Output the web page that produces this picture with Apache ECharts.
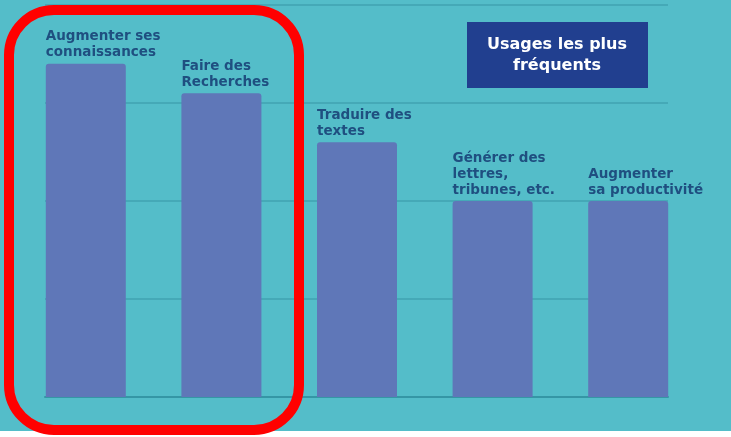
<!DOCTYPE html>
<html>
<head>
<meta charset="utf-8">
<script src="https://cdn.jsdelivr.net/npm/echarts@6/dist/echarts.min.js"></script>
<style>
  html, body { margin: 0; padding: 0; background: #54bdc9; }
  #main { width: 731px; height: 437px; }
</style>
</head>
<body>
<div id="main"></div>
<script>
// données (en %)
var categories = ['Augmenter ses\nconnaissances', 'Faire des\nRecherches', 'Traduire des\ntextes', 'Générer des\nlettres,\ntribunes, etc.', 'Augmenter\nsa productivité'];
var values = [34, 31, 26, 20, 20];
var yTicks = [0, 10, 20, 30, 40];
var titleText = 'Usages les plus\nfréquents';

var mychart = echarts.init(document.getElementById('main'));

var option = {
  backgroundColor: '#54bdc9',
  animation: false,
  grid: [
    // grille des barres
    {left: 18, right: 35, top: 5, bottom: 40},
    // grille des lignes de repère (plus étroite)
    {left: 45, right: 63, top: 5, bottom: 40}
  ],
  xAxis: [
    {
      type: 'category', gridIndex: 0, data: categories,
      axisLine: {show: false}, axisTick: {show: false}, axisLabel: {show: false}
    },
    {
      type: 'category', gridIndex: 1, data: categories,
      axisLine: {show: true, lineStyle: {color: '#3596a5', width: 2}},
      axisTick: {show: false}, axisLabel: {show: false}
    }
  ],
  yAxis: [
    {
      type: 'value', gridIndex: 0, min: yTicks[0], max: yTicks[yTicks.length - 1],
      show: false, splitLine: {show: false}
    },
    {
      type: 'value', gridIndex: 1, min: yTicks[0], max: yTicks[yTicks.length - 1], interval: 10,
      axisLine: {show: false}, axisTick: {show: false}, axisLabel: {show: false},
      splitLine: {show: true, lineStyle: {color: '#45a9b7', width: 2}}
    }
  ],
  series: [
    {
      type: 'bar',
      xAxisIndex: 0, yAxisIndex: 0,
      data: values,
      barWidth: 80,
      itemStyle: {color: '#5f77b8', borderRadius: [3, 3, 0, 0]},
      label: {
        show: true,
        formatter: '{b}',
        position: [0, -3],
        align: 'left',
        verticalAlign: 'bottom',
        color: '#1f4f80',
        fontFamily: 'DejaVu Sans',
        fontWeight: 'bold',
        fontSize: 13.5,
        lineHeight: 16
      }
    }
  ],
  graphic: [
    {
      type: 'rect', left: 0, top: 431, z: 50,
      shape: {width: 731, height: 6},
      style: {fill: '#ffffff'}
    },
    {
      type: 'rect', z: 60,
      shape: {x: 467, y: 22, width: 181, height: 66},
      style: {fill: '#213f8f'}
    },
    {
      type: 'text', z: 61,
      x: 557, y: 55,
      style: {
        text: titleText,
        fill: '#ffffff',
        font: 'bold 16px "DejaVu Sans"',
        align: 'center',
        verticalAlign: 'middle',
        lineHeight: 21
      }
    },
    {
      type: 'rect', z: 100,
      shape: {x: 9, y: 10, width: 290, height: 420, r: 45},
      style: {fill: 'none', stroke: '#ff0000', lineWidth: 10}
    }
  ]
};

mychart.setOption(option);
</script>
</body>
</html>
